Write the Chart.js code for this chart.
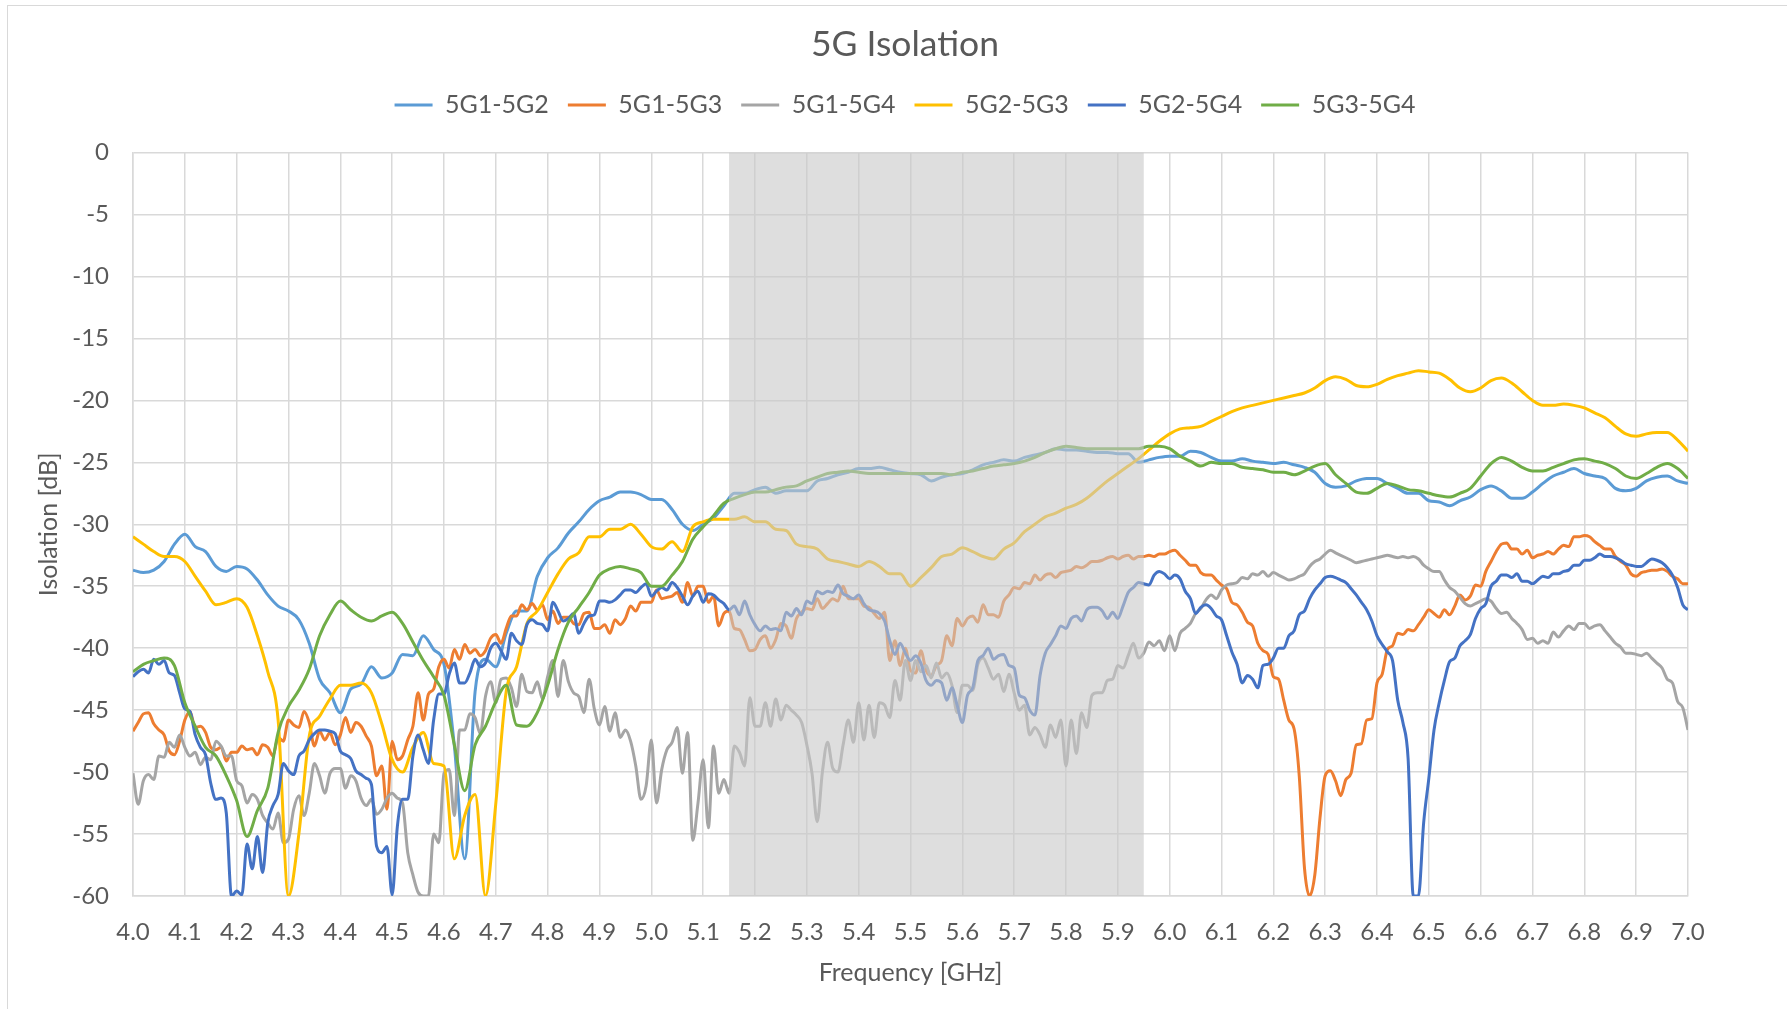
<!DOCTYPE html>
<html>
<head>
<meta charset="utf-8">
<title>5G Isolation</title>
<script src="https://cdn.jsdelivr.net/npm/chart.js@4.4.1/dist/chart.umd.min.js"></script>
<style>
  html, body { margin: 0; padding: 0; background: #fff; }
  #frame {
    position: absolute; left: 7px; top: 5px; width: 1780px; height: 1004px;
    border-top: 1px solid #d9d9d9; border-left: 1px solid #d9d9d9;
  }
  canvas { position: absolute; left: 0; top: 0; }
</style>
</head>
<body>
<div id="frame"></div>
<canvas id="isolationChart" width="1787" height="1009"></canvas>
<script>
const chartTitle = "5G Isolation";
const xAxisTitle = "Frequency [GHz]";
const yAxisTitle = "Isolation [dB]";

const seriesNames = ["5G1-5G2", "5G1-5G3", "5G1-5G4", "5G2-5G3", "5G2-5G4", "5G3-5G4"];
const seriesColors = ["#5b9bd5", "#ed7d31", "#a5a5a5", "#ffc000", "#4472c4", "#70ad47"];

// shaded band (GHz)
const bandStartGHz = 5.15;
const bandEndGHz = 5.95;

// 20 MHz sample grid (smoother traces)
const freqCoarseGHz = [
  4.00, 4.02, 4.04, 4.06, 4.08, 4.10, 4.12, 4.14, 4.16, 4.18,
  4.20, 4.22, 4.24, 4.26, 4.28, 4.30, 4.32, 4.34, 4.36, 4.38,
  4.40, 4.42, 4.44, 4.46, 4.48, 4.50, 4.52, 4.54, 4.56, 4.58,
  4.60, 4.62, 4.64, 4.66, 4.68, 4.70, 4.72, 4.74, 4.76, 4.78,
  4.80, 4.82, 4.84, 4.86, 4.88, 4.90, 4.92, 4.94, 4.96, 4.98,
  5.00, 5.02, 5.04, 5.06, 5.08, 5.10, 5.12, 5.14, 5.16, 5.18,
  5.20, 5.22, 5.24, 5.26, 5.28, 5.30, 5.32, 5.34, 5.36, 5.38,
  5.40, 5.42, 5.44, 5.46, 5.48, 5.50, 5.52, 5.54, 5.56, 5.58,
  5.60, 5.62, 5.64, 5.66, 5.68, 5.70, 5.72, 5.74, 5.76, 5.78,
  5.80, 5.82, 5.84, 5.86, 5.88, 5.90, 5.92, 5.94, 5.96, 5.98,
  6.00, 6.02, 6.04, 6.06, 6.08, 6.10, 6.12, 6.14, 6.16, 6.18,
  6.20, 6.22, 6.24, 6.26, 6.28, 6.30, 6.32, 6.34, 6.36, 6.38,
  6.40, 6.42, 6.44, 6.46, 6.48, 6.50, 6.52, 6.54, 6.56, 6.58,
  6.60, 6.62, 6.64, 6.66, 6.68, 6.70, 6.72, 6.74, 6.76, 6.78,
  6.80, 6.82, 6.84, 6.86, 6.88, 6.90, 6.92, 6.94, 6.96, 6.98,
  7.00
];

// 10 MHz sample grid (rippled traces)
const freqFineGHz = [
  4.00, 4.01, 4.02, 4.03, 4.04, 4.05, 4.06, 4.07, 4.08, 4.09,
  4.10, 4.11, 4.12, 4.13, 4.14, 4.15, 4.16, 4.17, 4.18, 4.19,
  4.20, 4.21, 4.22, 4.23, 4.24, 4.25, 4.26, 4.27, 4.28, 4.29,
  4.30, 4.31, 4.32, 4.33, 4.34, 4.35, 4.36, 4.37, 4.38, 4.39,
  4.40, 4.41, 4.42, 4.43, 4.44, 4.45, 4.46, 4.47, 4.48, 4.49,
  4.50, 4.51, 4.52, 4.53, 4.54, 4.55, 4.56, 4.57, 4.58, 4.59,
  4.60, 4.61, 4.62, 4.63, 4.64, 4.65, 4.66, 4.67, 4.68, 4.69,
  4.70, 4.71, 4.72, 4.73, 4.74, 4.75, 4.76, 4.77, 4.78, 4.79,
  4.80, 4.81, 4.82, 4.83, 4.84, 4.85, 4.86, 4.87, 4.88, 4.89,
  4.90, 4.91, 4.92, 4.93, 4.94, 4.95, 4.96, 4.97, 4.98, 4.99,
  5.00, 5.01, 5.02, 5.03, 5.04, 5.05, 5.06, 5.07, 5.08, 5.09,
  5.10, 5.11, 5.12, 5.13, 5.14, 5.15, 5.16, 5.17, 5.18, 5.19,
  5.20, 5.21, 5.22, 5.23, 5.24, 5.25, 5.26, 5.27, 5.28, 5.29,
  5.30, 5.31, 5.32, 5.33, 5.34, 5.35, 5.36, 5.37, 5.38, 5.39,
  5.40, 5.41, 5.42, 5.43, 5.44, 5.45, 5.46, 5.47, 5.48, 5.49,
  5.50, 5.51, 5.52, 5.53, 5.54, 5.55, 5.56, 5.57, 5.58, 5.59,
  5.60, 5.61, 5.62, 5.63, 5.64, 5.65, 5.66, 5.67, 5.68, 5.69,
  5.70, 5.71, 5.72, 5.73, 5.74, 5.75, 5.76, 5.77, 5.78, 5.79,
  5.80, 5.81, 5.82, 5.83, 5.84, 5.85, 5.86, 5.87, 5.88, 5.89,
  5.90, 5.91, 5.92, 5.93, 5.94, 5.95, 5.96, 5.97, 5.98, 5.99,
  6.00, 6.01, 6.02, 6.03, 6.04, 6.05, 6.06, 6.07, 6.08, 6.09,
  6.10, 6.11, 6.12, 6.13, 6.14, 6.15, 6.16, 6.17, 6.18, 6.19,
  6.20, 6.21, 6.22, 6.23, 6.24, 6.25, 6.26, 6.27, 6.28, 6.29,
  6.30, 6.31, 6.32, 6.33, 6.34, 6.35, 6.36, 6.37, 6.38, 6.39,
  6.40, 6.41, 6.42, 6.43, 6.44, 6.45, 6.46, 6.47, 6.48, 6.49,
  6.50, 6.51, 6.52, 6.53, 6.54, 6.55, 6.56, 6.57, 6.58, 6.59,
  6.60, 6.61, 6.62, 6.63, 6.64, 6.65, 6.66, 6.67, 6.68, 6.69,
  6.70, 6.71, 6.72, 6.73, 6.74, 6.75, 6.76, 6.77, 6.78, 6.79,
  6.80, 6.81, 6.82, 6.83, 6.84, 6.85, 6.86, 6.87, 6.88, 6.89,
  6.90, 6.91, 6.92, 6.93, 6.94, 6.95, 6.96, 6.97, 6.98, 6.99,
  7.00
];

// on freqCoarseGHz
const iso5G1_5G2 = [
  -33.7, -33.9, -33.7, -33.0, -31.6, -30.8, -31.8, -32.2, -33.4, -33.8,
  -33.4, -33.6, -34.5, -35.7, -36.6, -37.0, -37.7, -39.6, -42.5, -43.6,
  -45.2, -43.3, -42.9, -41.5, -42.4, -42.0, -40.5, -40.6, -39.0, -40.1,
  -41.3, -47.9, -57.0, -43.5, -40.9, -41.5, -38.8, -37.0, -37.0, -34.2,
  -32.7, -31.9, -30.7, -29.8, -28.8, -28.1, -27.8, -27.4, -27.4, -27.6,
  -28.0, -28.0, -28.8, -30.0, -30.5, -30.0, -29.5, -28.5, -27.5, -27.5,
  -27.2, -27.0, -27.5, -27.3, -27.3, -27.3, -26.5, -26.3, -26.0, -25.8,
  -25.5, -25.5, -25.4, -25.6, -25.8, -25.9, -26.0, -26.5, -26.2, -26.0,
  -25.9, -25.6, -25.2, -25.0, -24.8, -24.9, -24.6, -24.4, -24.2, -23.9,
  -24.0, -24.0, -24.1, -24.2, -24.2, -24.3, -24.3, -25.0, -24.8, -24.6,
  -24.5, -24.5, -24.1, -24.2, -24.6, -24.9, -24.9, -24.7, -24.9, -25.0,
  -25.1, -25.0, -25.2, -25.4, -25.8, -26.7, -27.0, -26.9, -26.5, -26.3,
  -26.3, -26.7, -27.1, -27.5, -27.5, -28.1, -28.2, -28.5, -28.1, -27.8,
  -27.2, -26.9, -27.3, -27.9, -27.9, -27.4, -26.7, -26.1, -25.8, -25.5,
  -25.9, -26.1, -26.3, -27.1, -27.3, -27.1, -26.5, -26.2, -26.1, -26.5,
  -26.7
];

// on freqFineGHz
const iso5G1_5G3 = [
  -46.7, -46.0, -45.3, -45.2, -46.1, -46.6, -47.0, -48.3, -48.6, -47.5,
  -45.8, -45.1, -46.4, -46.3, -46.8, -48.0, -48.2, -48.0, -49.1, -48.4,
  -48.4, -47.9, -48.2, -48.1, -48.6, -47.8, -48.0, -48.7, -47.2, -47.5,
  -45.8, -46.2, -46.4, -45.1, -46.0, -47.9, -46.7, -47.4, -46.8, -47.8,
  -47.0, -45.6, -46.8, -46.0, -46.3, -47.1, -47.9, -50.3, -49.5, -53.0,
  -47.5, -49.0, -48.7, -47.4, -46.3, -43.6, -45.8, -43.7, -43.3, -41.5,
  -40.9, -41.6, -40.1, -40.9, -39.7, -40.4, -40.1, -40.6, -40.2, -39.2,
  -38.9, -39.6, -38.4, -37.4, -37.4, -36.5, -36.9, -36.4, -36.9, -36.5,
  -37.7, -37.0, -38.0, -37.5, -37.5, -38.0, -38.1, -37.2, -37.1, -38.4,
  -38.4, -38.1, -38.8, -37.7, -38.1, -37.6, -36.6, -37.0, -36.3, -36.3,
  -36.3, -35.3, -36.0, -35.9, -35.8, -35.5, -36.3, -34.7, -35.8, -35.0,
  -35.0, -36.3, -35.8, -38.2, -37.2, -37.0, -38.4, -38.5, -39.3, -40.2,
  -40.1, -39.3, -39.0, -40.0, -39.3, -38.0, -38.2, -39.2, -37.6, -37.1,
  -36.8, -36.9, -36.0, -36.8, -36.4, -36.0, -36.2, -35.0, -36.0, -36.0,
  -36.0, -36.6, -36.7, -37.2, -37.6, -37.1, -41.0, -39.4, -41.4, -40.0,
  -41.8, -42.0, -40.2, -41.8, -42.2, -41.4, -41.0, -39.0, -39.8, -37.6,
  -38.2, -37.6, -37.4, -37.9, -36.5, -37.3, -37.3, -37.5, -36.2, -35.7,
  -35.1, -35.2, -34.7, -34.8, -34.1, -34.5, -34.1, -34.0, -34.3, -33.9,
  -33.8, -33.7, -33.4, -33.5, -33.3, -33.0, -33.0, -32.9, -32.7, -32.6,
  -32.8, -32.6, -32.5, -32.8, -32.6, -32.6, -32.5, -32.6, -32.4, -32.4,
  -32.2, -32.1, -32.5, -32.9, -33.3, -33.3, -33.9, -34.1, -34.1, -34.5,
  -34.9, -35.2, -36.3, -36.5, -37.1, -37.9, -38.2, -39.6, -40.2, -40.5,
  -42.3, -42.5, -44.2, -45.8, -46.5, -50.3, -57.7, -60.0, -58.3, -53.7,
  -50.3, -49.9, -50.7, -51.9, -50.6, -50.1, -47.8, -47.7, -45.8, -45.7,
  -42.8, -42.1, -40.1, -39.8, -38.8, -38.9, -38.5, -38.6, -38.1, -37.5,
  -36.9, -37.2, -37.5, -36.9, -37.3, -36.6, -35.7, -36.1, -35.8, -34.9,
  -35.0, -33.8, -33.0, -32.2, -31.6, -31.5, -32.0, -32.0, -32.4, -32.1,
  -32.7, -32.5, -32.4, -32.2, -32.4, -32.0, -31.7, -31.8, -31.0, -31.0,
  -30.9, -31.0, -31.4, -31.7, -32.0, -32.0, -32.6, -33.0, -33.3, -34.0,
  -34.2, -33.9, -33.8, -33.7, -33.7, -33.6, -33.8, -34.2, -34.4, -34.8,
  -34.8
];

// on freqFineGHz
const iso5G1_5G4 = [
  -50.1, -52.6, -50.7, -50.2, -50.6, -48.7, -48.8, -47.6, -48.0, -47.0,
  -48.0, -48.7, -48.4, -49.4, -48.8, -49.0, -47.5, -47.9, -48.7, -48.7,
  -50.7, -51.1, -52.5, -51.8, -52.2, -53.5, -54.1, -54.6, -53.3, -55.7,
  -55.4, -53.0, -51.9, -53.5, -51.7, -49.3, -50.3, -51.7, -50.1, -49.7,
  -49.7, -51.3, -50.3, -50.7, -52.1, -52.7, -52.2, -53.4, -53.0, -52.1,
  -51.7, -52.1, -52.5, -56.5, -58.3, -59.7, -60.0, -60.0, -55.0, -55.7,
  -50.1, -49.8, -53.5, -46.6, -46.6, -45.3, -45.6, -46.9, -43.9, -42.7,
  -44.4, -42.5, -42.4, -43.2, -44.7, -42.1, -43.5, -43.6, -42.7, -44.1,
  -42.3, -41.0, -43.9, -41.0, -42.7, -43.6, -43.9, -45.2, -42.5, -44.9,
  -46.2, -44.7, -46.7, -45.2, -47.2, -46.6, -47.5, -49.5, -52.2, -51.1,
  -47.4, -52.5, -49.8, -48.2, -47.6, -46.4, -50.1, -46.8, -55.5, -52.5,
  -49.0, -54.5, -47.9, -51.7, -50.6, -51.7, -47.9, -48.4, -49.5, -44.0,
  -46.3, -46.3, -44.4, -46.3, -44.1, -45.8, -44.6, -45.0, -45.4, -46.0,
  -47.8, -50.1, -54.0, -50.0, -47.6, -49.7, -50.0, -47.8, -45.8, -47.6,
  -44.4, -47.4, -44.6, -47.2, -44.4, -44.6, -45.6, -42.6, -44.2, -41.0,
  -42.6, -41.0, -41.9, -41.4, -42.4, -41.2, -42.4, -42.0, -43.0, -45.2,
  -43.0, -43.0, -43.4, -41.3, -40.8, -41.6, -42.5, -42.1, -43.5, -42.1,
  -43.6, -45.0, -44.6, -47.0, -46.4, -47.0, -48.0, -46.2, -47.2, -45.8,
  -49.5, -45.8, -48.5, -45.2, -46.4, -43.8, -43.6, -43.6, -42.6, -42.5,
  -41.4, -41.6, -40.6, -39.6, -40.8, -40.4, -39.5, -39.8, -39.4, -40.2,
  -39.0, -40.2, -38.8, -38.4, -38.0, -37.2, -36.8, -36.1, -35.7, -36.0,
  -35.3, -34.9, -34.8, -34.7, -34.3, -34.4, -34.0, -34.1, -33.8, -34.2,
  -33.9, -34.1, -34.3, -34.5, -34.4, -34.2, -34.0, -33.4, -33.0, -32.8,
  -32.4, -32.1, -32.3, -32.5, -32.7, -32.9, -33.1, -33.0, -32.9, -32.8,
  -32.7, -32.6, -32.5, -32.6, -32.7, -32.6, -32.7, -32.6, -32.8, -33.3,
  -33.6, -33.8, -33.8, -34.5, -35.1, -35.4, -35.9, -36.4, -36.6, -36.4,
  -36.2, -36.0, -36.2, -36.8, -37.2, -37.1, -37.6, -38.0, -38.5, -39.3,
  -39.2, -39.6, -39.4, -39.6, -38.7, -39.1, -38.6, -38.2, -38.5, -38.0,
  -38.0, -38.4, -38.2, -38.1, -38.6, -39.1, -39.6, -39.9, -40.4, -40.4,
  -40.5, -40.6, -40.4, -40.8, -41.2, -41.6, -42.5, -42.8, -44.3, -44.8,
  -46.6
];

// on freqCoarseGHz
const iso5G2_5G3 = [
  -31.0, -31.6, -32.2, -32.6, -32.6, -33.0, -34.2, -35.4, -36.5, -36.3,
  -36.0, -36.7, -39.0, -41.9, -45.8, -60.0, -55.0, -47.1, -45.5, -44.1,
  -43.0, -43.0, -42.8, -43.6, -46.1, -49.0, -50.0, -48.0, -46.8, -49.3,
  -49.5, -57.0, -53.5, -51.8, -60.0, -52.5, -43.5, -41.5, -38.0, -37.0,
  -35.5, -34.0, -32.8, -32.3, -31.0, -31.0, -30.4, -30.4, -30.0, -30.8,
  -31.8, -32.0, -31.4, -32.2, -30.2, -29.8, -29.6, -29.6, -29.6, -29.4,
  -29.8, -29.8, -30.4, -30.5, -31.6, -31.8, -32.0, -32.8, -33.0, -33.2,
  -33.4, -33.0, -33.4, -34.0, -34.0, -35.0, -34.3, -33.5, -32.6, -32.4,
  -31.9, -32.2, -32.6, -32.8, -32.0, -31.5, -30.6, -30.0, -29.4, -29.1,
  -28.7, -28.4, -27.9, -27.2, -26.5, -25.9, -25.3, -24.7, -24.0, -23.3,
  -22.7, -22.3, -22.2, -22.1, -21.7, -21.3, -20.9, -20.6, -20.4, -20.2,
  -20.0, -19.8, -19.6, -19.4, -19.0, -18.4, -18.1, -18.3, -18.8, -18.9,
  -18.7, -18.3, -18.0, -17.8, -17.6, -17.7, -17.8, -18.3, -19.0, -19.3,
  -19.0, -18.4, -18.2, -18.6, -19.3, -20.0, -20.4, -20.4, -20.3, -20.4,
  -20.6, -21.0, -21.4, -22.1, -22.7, -22.9, -22.7, -22.6, -22.6, -23.2,
  -24.1
];

// on freqFineGHz
const iso5G2_5G4 = [
  -42.3, -41.9, -41.7, -42.0, -40.9, -41.3, -41.0, -42.0, -42.2, -43.6,
  -44.9, -45.1, -47.0, -48.0, -48.6, -50.9, -52.2, -52.1, -53.3, -60.0,
  -59.6, -59.9, -55.8, -57.8, -55.2, -58.1, -54.1, -52.7, -51.8, -49.3,
  -49.9, -50.2, -48.7, -48.3, -47.4, -46.9, -46.6, -46.6, -46.7, -46.9,
  -48.3, -48.6, -48.9, -49.9, -50.2, -50.5, -51.0, -56.0, -56.5, -56.0,
  -59.9, -54.4, -52.2, -52.2, -48.7, -47.0, -48.2, -49.3, -45.8, -43.7,
  -43.7, -42.1, -41.2, -42.8, -42.8, -42.0, -40.9, -41.5, -41.2, -40.0,
  -39.6, -40.2, -40.9, -38.8, -39.4, -39.7, -38.1, -37.7, -38.0, -38.1,
  -38.6, -36.3, -37.0, -37.8, -37.6, -37.2, -38.8, -38.0, -37.4, -37.3,
  -36.2, -36.2, -36.3, -36.1, -35.7, -35.3, -35.3, -35.5, -35.1, -34.8,
  -35.8, -35.4, -35.1, -35.3, -34.7, -35.1, -35.8, -36.5, -35.8, -35.4,
  -36.3, -35.6, -35.7, -36.1, -36.4, -36.9, -36.6, -37.3, -36.2, -37.3,
  -38.1, -38.6, -38.2, -38.5, -38.4, -38.6, -37.1, -37.4, -36.8, -37.3,
  -36.2, -36.4, -35.4, -35.6, -35.4, -35.5, -34.9, -35.6, -35.8, -36.0,
  -35.7, -36.4, -36.9, -37.0, -37.2, -37.8, -39.4, -40.5, -39.6, -40.4,
  -41.0, -40.6, -41.2, -42.6, -43.0, -42.6, -42.8, -44.2, -43.2, -44.6,
  -46.0, -43.8, -43.2, -41.0, -40.6, -40.0, -40.9, -40.6, -40.5, -41.4,
  -41.6, -43.8, -44.0, -45.0, -45.4, -42.2, -40.4, -39.7, -39.0, -38.2,
  -38.4, -37.6, -37.4, -37.8, -36.9, -36.7, -36.7, -37.0, -37.6, -37.1,
  -37.6, -36.6, -35.5, -35.1, -34.7, -34.8, -34.9, -34.1, -33.8, -34.0,
  -34.4, -34.1, -34.4, -35.4, -36.0, -37.2, -36.7, -36.5, -36.8, -37.4,
  -37.7, -39.0, -40.3, -41.3, -42.8, -42.2, -42.5, -43.2, -41.4, -41.3,
  -40.8, -40.0, -40.0, -39.0, -38.6, -37.3, -37.0, -36.0, -35.3, -34.8,
  -34.3, -34.2, -34.3, -34.5, -34.7, -35.2, -35.7, -36.3, -36.9, -37.8,
  -39.0, -39.7, -40.3, -41.0, -44.2, -46.0, -48.9, -60.0, -60.0, -54.1,
  -50.5, -46.6, -44.4, -42.6, -41.1, -40.8, -39.8, -39.4, -38.9, -37.6,
  -36.8, -36.4, -35.0, -34.6, -34.1, -34.1, -34.3, -34.0, -34.6, -34.6,
  -34.8, -34.5, -34.2, -34.3, -34.0, -34.0, -33.8, -33.7, -33.3, -33.3,
  -32.9, -32.9, -32.7, -32.4, -32.6, -32.6, -32.7, -32.9, -33.2, -33.3,
  -33.4, -33.4, -33.1, -32.8, -32.9, -33.1, -33.5, -34.1, -35.1, -36.5,
  -36.9
];

// on freqCoarseGHz
const iso5G3_5G4 = [
  -41.9, -41.3, -41.0, -40.8, -41.4, -44.4, -46.3, -48.0, -48.7, -50.3,
  -52.3, -55.2, -53.1, -51.3, -46.8, -44.7, -43.4, -41.7, -39.0, -37.3,
  -36.2, -36.9, -37.5, -37.8, -37.4, -37.1, -38.0, -39.5, -41.0, -42.3,
  -43.8, -47.8, -51.5, -47.8, -46.3, -44.3, -43.0, -46.2, -46.3, -45.2,
  -43.0, -40.1, -37.9, -36.7, -35.5, -34.1, -33.6, -33.4, -33.6, -33.9,
  -35.0, -35.0, -34.1, -33.0, -31.2, -30.2, -29.3, -28.3, -27.9, -27.6,
  -27.4, -27.4, -27.2, -27.0, -26.9, -26.5, -26.2, -25.9, -25.8, -25.7,
  -25.8, -25.9, -25.9, -25.9, -25.9, -25.9, -25.9, -25.9, -25.9, -26.0,
  -25.8, -25.7, -25.5, -25.3, -25.2, -25.1, -24.9, -24.6, -24.2, -23.9,
  -23.7, -23.8, -23.9, -23.9, -23.9, -23.9, -23.9, -23.9, -23.7, -23.7,
  -23.9, -24.5, -24.9, -25.3, -25.0, -25.1, -25.1, -25.4, -25.5, -25.6,
  -25.8, -25.8, -26.0, -25.7, -25.3, -25.1, -26.0, -26.7, -27.4, -27.5,
  -27.1, -26.7, -26.9, -27.2, -27.3, -27.5, -27.7, -27.8, -27.5, -27.1,
  -26.1, -25.1, -24.6, -24.9, -25.4, -25.7, -25.7, -25.4, -25.1, -24.8,
  -24.7, -24.9, -25.1, -25.5, -26.1, -26.3, -25.9, -25.4, -25.1, -25.5,
  -26.3
];

const seriesValues = [iso5G1_5G2, iso5G1_5G3, iso5G1_5G4, iso5G2_5G3, iso5G2_5G4, iso5G3_5G4];
const seriesFreqs = [freqCoarseGHz, freqFineGHz, freqFineGHz, freqCoarseGHz, freqFineGHz, freqCoarseGHz];

const FONT = "Lato, 'Open Sans', sans-serif";
const TEXT_COLOR = "#595959";
const GRID_COLOR = "#d9d9d9";

// grey band drawn over the lines, like the Excel overlay
const bandPlugin = {
  id: "bandOverlay",
  afterDatasetsDraw(chart) {
    const { ctx, chartArea, scales } = chart;
    const x0 = scales.x.getPixelForValue(bandStartGHz);
    const x1 = scales.x.getPixelForValue(bandEndGHz);
    ctx.save();
    ctx.fillStyle = "rgba(200, 200, 200, 0.6)";
    ctx.fillRect(x0, chartArea.top, x1 - x0, chartArea.bottom - chartArea.top);
    ctx.restore();
  },
};

// extra gap between the legend row and the plot
const legendSpacer = {
  id: "legendSpacer",
  beforeLayout(chart) {
    const legend = chart.legend;
    if (!legend || legend._spaced) return;
    const fit = legend.fit;
    legend.fit = function () {
      fit.call(this);
      this.height += 25;
    };
    legend._spaced = true;
  },
};

const datasets = seriesNames.map((name, i) => ({
  label: name,
  data: seriesFreqs[i].map((f, j) => ({ x: f, y: seriesValues[i][j] })),
  borderColor: seriesColors[i],
  backgroundColor: seriesColors[i],
  borderWidth: 3,
  pointRadius: 0,
  cubicInterpolationMode: "monotone",
  order: seriesNames.length - i,
}));

new Chart(document.getElementById("isolationChart"), {
  type: "line",
  data: { datasets },
  options: {
    responsive: false,
    animation: false,
    devicePixelRatio: 1,
    layout: { padding: { left: 23, right: 0, top: 12, bottom: 0 } },
    plugins: {
      title: {
        display: true,
        text: chartTitle,
        color: TEXT_COLOR,
        font: { family: FONT, size: 35.5, weight: "normal" },
        padding: { top: 11, bottom: 8 },
      },
      legend: {
        position: "top",
        labels: {
          color: TEXT_COLOR,
          font: { family: FONT, size: 25 },
          usePointStyle: true,
          pointStyle: "line",
          pointStyleWidth: 38,
          padding: 19,
          sort: (a, b) => a.datasetIndex - b.datasetIndex,
        },
      },
      tooltip: { enabled: false },
    },
    scales: {
      x: {
        type: "linear",
        min: 4,
        max: 7,
        ticks: {
          stepSize: 0.1,
          autoSkip: false,
          maxRotation: 0,
          color: TEXT_COLOR,
          font: { family: FONT, size: 24 },
          padding: 22,
          callback: (v) => Number(v).toFixed(1),
        },
        grid: { color: GRID_COLOR, lineWidth: 1.5, drawTicks: false },
        border: { color: GRID_COLOR, width: 1.5 },
        title: {
          display: true,
          text: xAxisTitle,
          color: TEXT_COLOR,
          font: { family: FONT, size: 25 },
          padding: { top: 0, bottom: 21 },
        },
        afterFit: (scale) => { scale.height = 113; },
      },
      y: {
        min: -60,
        max: 0,
        ticks: {
          stepSize: 5,
          color: TEXT_COLOR,
          font: { family: FONT, size: 24 },
          padding: 24,
          callback: (v) => String(v),
        },
        grid: { color: GRID_COLOR, lineWidth: 1.5, drawTicks: false },
        border: { color: GRID_COLOR, width: 1.5 },
        title: {
          display: true,
          text: yAxisTitle,
          color: TEXT_COLOR,
          font: { family: FONT, size: 25 },
          padding: { top: 11, bottom: 0 },
        },
        afterFit: (scale) => { scale.width = 110; },
      },
      rightGap: {
        type: "linear",
        position: "right",
        display: true,
        grid: { display: false },
        ticks: { display: false },
        border: { display: false },
        afterFit: (scale) => { scale.width = 99; },
      },
    },
  },
  plugins: [bandPlugin, legendSpacer],
});
</script>
</body>
</html>
